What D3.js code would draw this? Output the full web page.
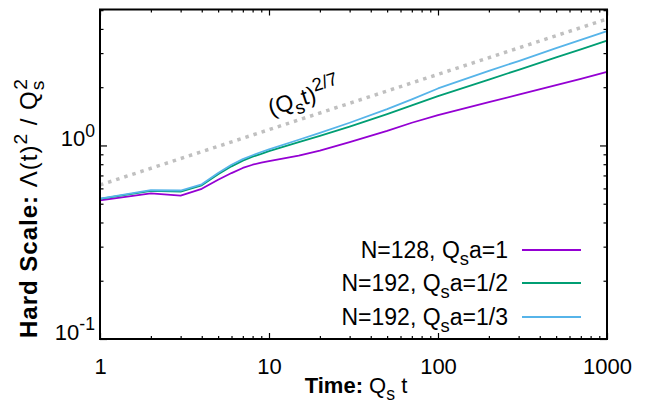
<!DOCTYPE html>
<html lang="en">
<head>
  <meta charset="UTF-8">
  <title>Hard scale vs time</title>
  <script src="https://d3js.org/d3.v7.min.js"></script>
  <style>
    body { margin: 0; background: #fff; }
    svg { font-family: "Liberation Sans", Arial, Helvetica, sans-serif; }
  </style>
</head>
<body>
  <div id="chart"></div>

  <script>
    // Data
    const times = [1, 2, 3, 4, 5, 6, 7, 8, 9, 10, 15, 20, 30, 50, 70, 100, 200, 300, 500, 700, 1000];
    const n128 = [0.52, 0.565, 0.55, 0.597, 0.665, 0.72, 0.765, 0.795, 0.815, 0.83, 0.885, 0.94, 1.04, 1.19, 1.31, 1.435, 1.675, 1.83, 2.05, 2.21, 2.40];
    const n192half = [0.53, 0.582, 0.578, 0.622, 0.71, 0.78, 0.835, 0.875, 0.905, 0.935, 1.04, 1.12, 1.25, 1.45, 1.61, 1.80, 2.19, 2.46, 2.85, 3.14, 3.48];
    const n192third = [0.531, 0.587, 0.585, 0.63, 0.72, 0.795, 0.85, 0.89, 0.925, 0.955, 1.07, 1.16, 1.31, 1.54, 1.73, 1.97, 2.43, 2.73, 3.18, 3.51, 3.90];
    const refT = [1, 1000];
    const refY = [0.625, 4.5];

    const seriesNames = [
      [["N=128, Q", "n"], ["s", "sub"], ["a=1", "n"]],
      [["N=192, Q", "n"], ["s", "sub"], ["a=1/2", "n"]],
      [["N=192, Q", "n"], ["s", "sub"], ["a=1/3", "n"]]
    ];
    const seriesColors = ["#9400d3", "#009e73", "#56b4e9"];
    const seriesValues = [n128, n192half, n192third];

    const xMajor = [1, 10, 100, 1000];
    const yMajor = [0.1, 1];

    const width = 659, height = 408;
    const margin = { left: 100, right: 52, top: 9.5, bottom: 69 };
    const fs = 22;

    const svg = d3.select("#chart").append("svg")
      .attr("width", width)
      .attr("height", height);

    const x = d3.scaleLog().domain([1, 1000]).range([margin.left, width - margin.right]);
    const y = d3.scaleLog().domain([0.1, 5.04]).range([height - margin.bottom, margin.top]);

    // rich text with bold / sub / sup pieces
    function rich(sel, segs, size) {
      let shift = 0;
      segs.forEach(([str, mode, dx]) => {
        let target = 0, sz = size;
        if (mode === "sub") { target = 0.3 * size; sz = 0.8 * size; }
        if (mode === "sup") { target = -0.42 * size; sz = 0.8 * size; }
        const ts = sel.append("tspan")
          .attr("dy", target - shift)
          .attr("font-size", sz)
          .text(str);
        if (mode === "b") ts.attr("font-weight", "bold");
        if (dx) ts.attr("dx", dx);
        shift = target;
      });
    }

    const minorX = [];
    [1, 10, 100].forEach(d => { for (let k = 2; k <= 9; k++) minorX.push(d * k); });
    const minorY = [];
    [0.1, 1].forEach(d => { for (let k = 2; k <= 9; k++) if (d * k < 5.04) minorY.push(d * k); });

    const bottom = height - margin.bottom;
    const right = width - margin.right;

    // x axes (bottom + mirrored top)
    const xb = svg.append("g").attr("transform", `translate(0,${bottom})`)
      .call(d3.axisBottom(x).tickValues(xMajor).tickSize(-6).tickPadding(19).tickFormat(d3.format("d")));
    svg.append("g").attr("transform", `translate(0,${bottom})`)
      .call(d3.axisBottom(x).tickValues(minorX).tickSize(-3).tickFormat(""));
    svg.append("g").attr("transform", `translate(0,${margin.top})`)
      .call(d3.axisTop(x).tickValues(xMajor).tickSize(-6).tickFormat(""));
    svg.append("g").attr("transform", `translate(0,${margin.top})`)
      .call(d3.axisTop(x).tickValues(minorX).tickSize(-3).tickFormat(""));

    // y axes (left + mirrored right)
    const yl = svg.append("g").attr("transform", `translate(${margin.left},0)`)
      .call(d3.axisLeft(y).tickValues(yMajor).tickSize(-7).tickPadding(5).tickFormat(""));
    svg.append("g").attr("transform", `translate(${margin.left},0)`)
      .call(d3.axisLeft(y).tickValues(minorY).tickSize(-3.5).tickFormat(""));
    svg.append("g").attr("transform", `translate(${right},0)`)
      .call(d3.axisRight(y).tickValues(yMajor).tickSize(-7).tickFormat(""));
    svg.append("g").attr("transform", `translate(${right},0)`)
      .call(d3.axisRight(y).tickValues(minorY).tickSize(-3.5).tickFormat(""));

    svg.selectAll(".domain").remove();
    svg.selectAll(".tick line").attr("stroke", "#000").attr("stroke-width", 1.2);

    xb.selectAll(".tick text").attr("font-size", fs).attr("fill", "#000")
      .attr("font-family", null);

    yl.selectAll(".tick text").each(function(d) {
      const t = d3.select(this).attr("font-size", fs).attr("fill", "#000")
        .attr("font-family", null).attr("dy", "0.5em");
      rich(t, [["10", "n"], [String(Math.round(Math.log10(d))), "sup"]], fs);
    });

    // reference power law
    const line = d3.line().x(d => x(d[0])).y(d => y(d[1]));
    svg.append("path")
      .datum(d3.zip(refT, refY))
      .attr("d", line)
      .attr("fill", "none")
      .attr("stroke", "#c0c0c0")
      .attr("stroke-width", 3.5)
      .attr("stroke-dasharray", "3.5,5");

    // series
    seriesValues.forEach((vals, i) => {
      svg.append("path")
        .datum(d3.zip(times, vals))
        .attr("d", line)
        .attr("fill", "none")
        .attr("stroke", seriesColors[i])
        .attr("stroke-width", 1.8)
        .attr("stroke-linejoin", "round");
    });

    // frame
    svg.append("rect")
      .attr("x", margin.left).attr("y", margin.top)
      .attr("width", right - margin.left).attr("height", bottom - margin.top)
      .attr("fill", "none").attr("stroke", "#000").attr("stroke-width", 2);

    // legend
    const legY = [250, 283, 317];
    seriesNames.forEach((segs, i) => {
      const t = svg.append("text")
        .attr("x", 508).attr("y", legY[i] + 8)
        .attr("text-anchor", "end").attr("font-size", 23);
      rich(t, segs, 23);
      svg.append("line")
        .attr("x1", 522).attr("x2", 581)
        .attr("y1", legY[i]).attr("y2", legY[i])
        .attr("stroke", seriesColors[i]).attr("stroke-width", 1.8);
    });

    // annotation for the power law
    const ann = svg.append("text")
      .attr("transform", "translate(271,116) rotate(-18)")
      .attr("font-size", 23);
    rich(ann, [["(Q", "n"], ["s", "sub"], ["t)", "n"], ["2/7", "sup"]], 23);

    // axis titles
    const xt = svg.append("text")
      .attr("x", 356).attr("y", 393)
      .attr("text-anchor", "middle").attr("font-size", fs);
    rich(xt, [["Time:", "b"], [" Q", "n"], ["s", "sub"], [" t", "n"]], fs);

    const yt = svg.append("text")
      .attr("transform", "translate(37,208) rotate(-90)")
      .attr("text-anchor", "middle").attr("font-size", 24)
      .attr("letter-spacing", 1);
    rich(yt, [["Hard Scale:", "b"], [" Λ(t)", "n"], ["2", "sup"], [" / Q", "n"], ["s", "sub"], ["2", "sup", -10]], 24);
  </script>
</body>
</html>
